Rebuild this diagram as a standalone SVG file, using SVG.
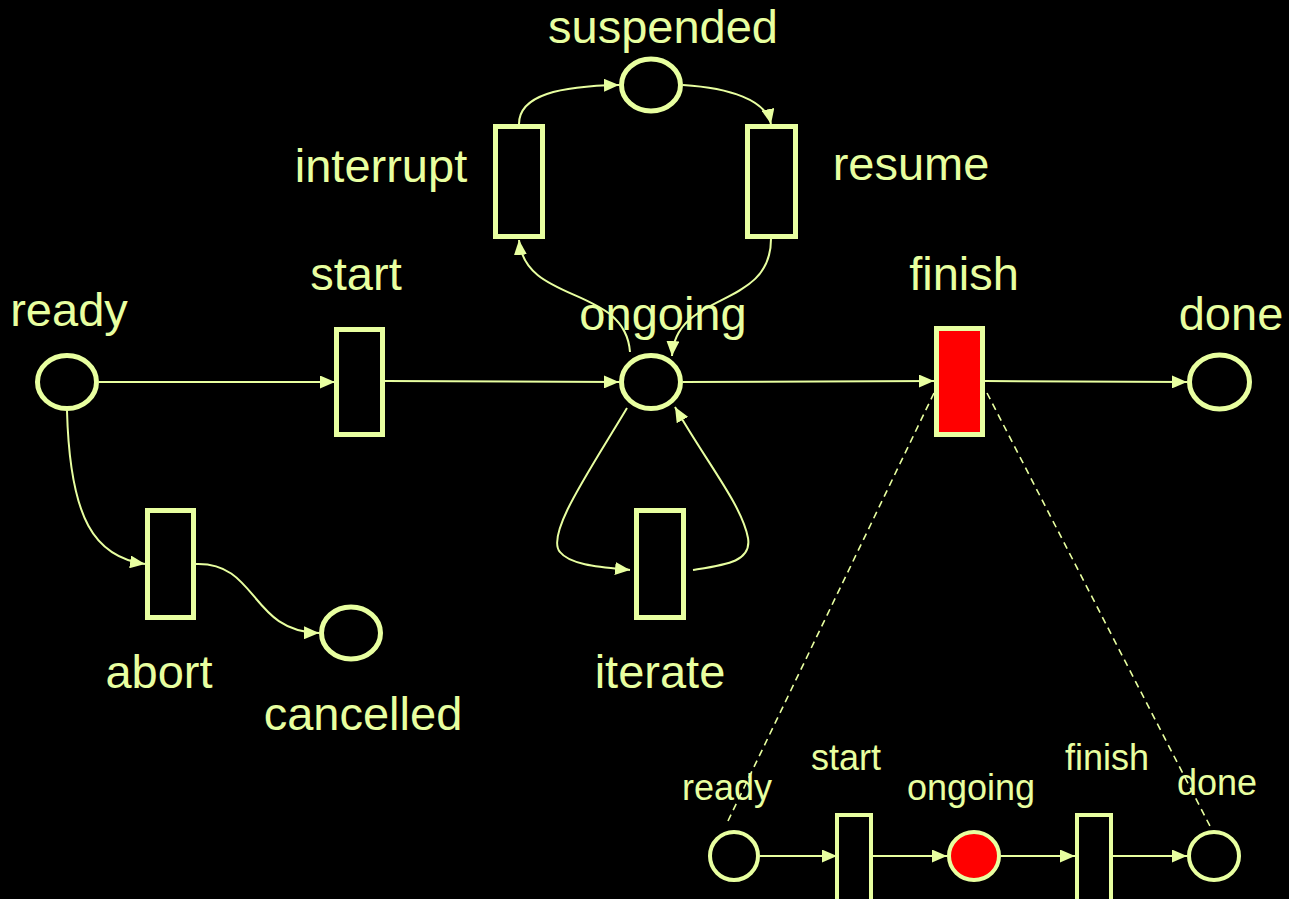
<svg xmlns="http://www.w3.org/2000/svg" width="1289" height="899" viewBox="0 0 1289 899">
<defs>
<marker id="arr" markerUnits="userSpaceOnUse" markerWidth="15" markerHeight="13" refX="15" refY="6.5" orient="auto">
<path d="M0,0 L15,6.5 L0,13 z" fill="#E8FFA0"/>
</marker>
<style>
.pl{fill:none;stroke:#E8FFA0;stroke-width:5}
.tr{fill:none;stroke:#E8FFA0;stroke-width:5}
.sp{fill:none;stroke:#E8FFA0;stroke-width:4}
.red{fill:#FF0000}
.lbl{font-family:"Liberation Sans",Arial,sans-serif;font-size:47px;fill:#E8FFA0;text-anchor:middle}
.sl{font-family:"Liberation Sans",Arial,sans-serif;font-size:36px;fill:#E8FFA0;text-anchor:middle}
.c{fill:none;stroke:#E8FFA0;stroke-width:2;marker-end:url(#arr)}
.d{fill:none;stroke:#E8FFA0;stroke-width:1.6;stroke-dasharray:7 5}
</style>
</defs>
<rect width="1289" height="899" fill="#000"/>
<g id="connectors">
<path class="c" d="M99,382 L335,382"/>
<path class="c" d="M385,381 L619,382"/>
<path class="c" d="M683,382 L934,381"/>
<path class="c" d="M985,381 L1187,382"/>
<path class="c" d="M67,411 C70,520 95,557 145,564"/>
<path class="c" d="M196,564 C258,562 250,632 319,633"/>
<path class="c" d="M630,352 C625,285 525,305 519,240"/>
<path class="c" d="M519,124 C519,95 560,86 619,85"/>
<path class="c" d="M683,85 C730,88 766,100 771,124"/>
<path class="c" d="M771,239 C771,310 676,290 672,356"/>
<path class="c" d="M627,408 C590,470 545,535 560,552 C570,565 600,567 630,570"/>
<path class="c" d="M693,570 C725,565 752,562 748,538 C742,505 705,460 675,407"/>
<path class="d" d="M934,393 L727,823"/>
<path class="d" d="M987,393 L1212,830"/>
<path class="c" d="M760,856 L837,856"/>
<path class="c" d="M873,856 L947,856"/>
<path class="c" d="M1001,856 L1075,856"/>
<path class="c" d="M1113,856 L1187,856"/>
</g>
<g id="ready"><ellipse class="pl" cx="67" cy="382" rx="29.5" ry="26.5"/><text class="lbl" x="69" y="326">ready</text></g>
<g id="start"><rect class="tr" x="336.5" y="329.5" width="46" height="105"/><text class="lbl" x="356" y="290">start</text></g>
<g id="ongoing"><ellipse class="pl" cx="651" cy="382" rx="29.5" ry="26.5"/><text class="lbl" x="663" y="330">ongoing</text></g>
<g id="suspended"><ellipse class="pl" cx="651" cy="85" rx="29.5" ry="26"/><text class="lbl" x="663" y="43">suspended</text></g>
<g id="interrupt"><rect class="tr" x="495.5" y="126.5" width="47" height="110"/><text class="lbl" x="381" y="182">interrupt</text></g>
<g id="resume"><rect class="tr" x="747.5" y="126.5" width="48" height="110"/><text class="lbl" x="911" y="180">resume</text></g>
<g id="finish"><rect class="tr red" x="936.5" y="328.5" width="46" height="106"/><text class="lbl" x="964" y="290">finish</text></g>
<g id="done"><ellipse class="pl" cx="1219.5" cy="382" rx="30" ry="27"/><text class="lbl" x="1231" y="330">done</text></g>
<g id="abort"><rect class="tr" x="147.5" y="510.5" width="46" height="107"/><text class="lbl" x="159" y="688">abort</text></g>
<g id="cancelled"><ellipse class="pl" cx="351" cy="633" rx="29.5" ry="26"/><text class="lbl" x="363" y="730">cancelled</text></g>
<g id="iterate"><rect class="tr" x="636.5" y="510.5" width="47" height="107"/><text class="lbl" x="660" y="688">iterate</text></g>
<g id="sub-ready"><ellipse class="sp" cx="734" cy="856" rx="24" ry="24"/><text class="sl" x="727" y="800">ready</text></g>
<g id="sub-start"><rect class="sp" x="837" y="815" width="34" height="90"/><text class="sl" x="846" y="770">start</text></g>
<g id="sub-ongoing"><ellipse class="sp red" cx="974" cy="856" rx="25" ry="24"/><text class="sl" x="971" y="800">ongoing</text></g>
<g id="sub-finish"><rect class="sp" x="1077" y="815" width="34" height="90"/><text class="sl" x="1107" y="770">finish</text></g>
<g id="sub-done"><ellipse class="sp" cx="1214" cy="856" rx="25" ry="24"/><text class="sl" x="1217" y="795">done</text></g>
</svg>
